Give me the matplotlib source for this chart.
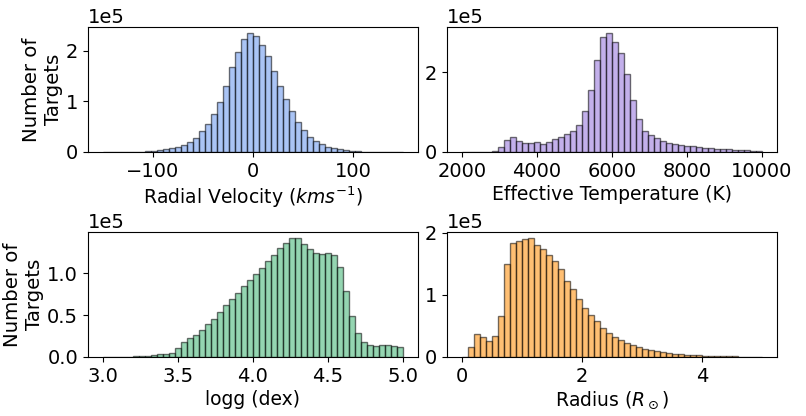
import numpy as np
import matplotlib
matplotlib.use('Agg')
import matplotlib.pyplot as plt

# histogram heights, in units of 1e5 targets (50 bins each)
rv_edges = np.linspace(-150, 150, 51)
rv_counts = [0.001, 0.001, 0.002, 0.002, 0.003, 0.005, 0.008, 0.012, 0.02, 0.033,
             0.052, 0.078, 0.105, 0.144, 0.196, 0.28, 0.405, 0.556, 0.745, 0.98,
             1.31, 1.67, 1.98, 2.23, 2.35, 2.29, 2.12, 1.89, 1.59, 1.31,
             1.05, 0.80, 0.59, 0.425, 0.30, 0.21, 0.15, 0.105, 0.072, 0.05,
             0.033, 0.02, 0.013, 0.008, 0.005, 0.003, 0.002, 0.002, 0.001, 0.001]

teff_edges = np.linspace(2000, 10000, 51)
teff_counts = [0, 0, 0, 0, 0, 0.025, 0.117, 0.29, 0.367, 0.267,
               0.217, 0.217, 0.242, 0.19, 0.25, 0.325, 0.367, 0.46, 0.54, 0.68,
               1.025, 1.57, 2.3, 2.9, 2.99, 2.775, 2.49, 1.95, 1.3, 0.817,
               0.54, 0.417, 0.342, 0.283, 0.233, 0.208, 0.183, 0.158, 0.142, 0.125,
               0.108, 0.1, 0.083, 0.075, 0.067, 0.058, 0.05, 0.042, 0.033, 0.028]

logg_edges = np.linspace(3.0, 5.0, 51)
logg_counts = [0, 0, 0.002, 0.004, 0.004, 0.008, 0.012, 0.016, 0.024, 0.032,
               0.04, 0.048, 0.107, 0.179, 0.222, 0.266, 0.321, 0.389, 0.452, 0.54,
               0.623, 0.69, 0.766, 0.845, 0.92, 0.996, 1.067, 1.15, 1.222, 1.306,
               1.369, 1.425, 1.42, 1.353, 1.294, 1.246, 1.234, 1.246, 1.218, 1.079,
               0.794, 0.488, 0.282, 0.175, 0.139, 0.135, 0.143, 0.143, 0.131, 0.115]

rad_edges = np.linspace(0.0, 5.0, 51)
rad_counts = [0, 0.155, 0.363, 0.32, 0.261, 0.331, 0.651, 1.493, 1.835, 1.861,
              1.899, 1.915, 1.797, 1.739, 1.637, 1.536, 1.408, 1.227, 1.099, 0.928,
              0.795, 0.667, 0.571, 0.469, 0.389, 0.325, 0.272, 0.229, 0.187, 0.155,
              0.133, 0.112, 0.096, 0.08, 0.064, 0.053, 0.048, 0.037, 0.032, 0.027,
              0.021, 0.016, 0.014, 0.011, 0.009, 0.007, 0.006, 0.005, 0.004, 0.003]

panels = [
    (rv_edges, rv_counts, 'cornflowerblue', 'Radial Velocity ($kms^{-1}$)', [-100, 0, 100], [0, 1, 2]),
    (teff_edges, teff_counts, 'mediumpurple', 'Effective Temperature (K)', [2000, 4000, 6000, 8000, 10000], [0, 2]),
    (logg_edges, logg_counts, 'mediumseagreen', 'logg (dex)', [3.0, 3.5, 4.0, 4.5, 5.0], [0, 0.5, 1.0]),
    (rad_edges, rad_counts, 'darkorange', r'Radius ($R_\odot$)', [0, 2, 4], [0, 1, 2]),
]

plt.rcParams['font.size'] = 14

fig, axes = plt.subplots(2, 2, figsize=(8.06, 4.16), dpi=100)
fig.subplots_adjust(left=0.109, right=0.964, bottom=0.142, top=0.935,
                    wspace=0.088, hspace=0.64)

for ax, (edges, counts, color, label, xt, yt) in zip(axes.flat, panels):
    centers = 0.5 * (edges[:-1] + edges[1:])
    ax.hist(centers, bins=edges, weights=np.array(counts) * 1e5,
            color=color, alpha=0.55, edgecolor='k')
    ax.set_xlabel(label, fontsize=13.5, labelpad=3)
    ax.set_xticks(xt)
    ax.set_yticks(np.array(yt) * 1e5)
    ax.ticklabel_format(axis='y', style='sci', scilimits=(0, 0))

axes[0, 0].set_ylabel('Number of\nTargets', fontsize=14.2, labelpad=2)
axes[1, 0].set_ylabel('Number of\nTargets', fontsize=14.2, labelpad=2)

plt.savefig('out.png')
